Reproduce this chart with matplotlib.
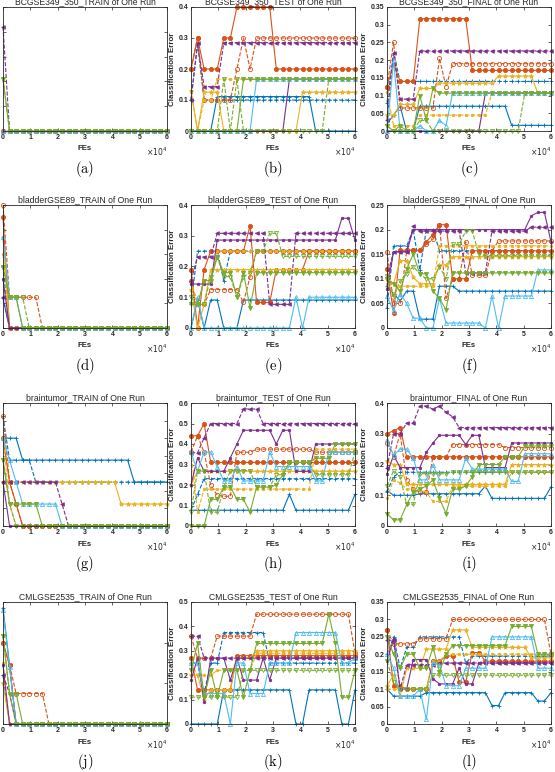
import matplotlib
matplotlib.use('Agg')
import matplotlib.pyplot as plt

plt.rcParams['font.family'] = ['Liberation Sans', 'DejaVu Sans']
plt.rcParams['mathtext.fontset'] = 'cm'

# ---------------- data ----------------
X_FES = [0, 2400, 4800, 7200, 9600, 12000, 14400, 16800, 19200, 21600, 24000, 26400, 28800,
         31200, 33600, 36000, 38400, 40800, 43200, 45600, 48000, 50400, 52800, 55200, 57600, 60000]

TITLES = ['BCGSE349_350_TRAIN of One Run', 'BCGSE349_350_TEST of One Run', 'BCGSE349_350_FINAL of One Run',
          'bladderGSE89_TRAIN of One Run', 'bladderGSE89_TEST of One Run', 'bladderGSE89_FINAL of One Run',
          'braintumor_TRAIN of One Run', 'braintumor_TEST of One Run', 'braintumor_FINAL of One Run',
          'CMLGSE2535_TRAIN of One Run', 'CMLGSE2535_TEST of One Run', 'CMLGSE2535_FINAL of One Run']
PANEL_LABELS = ['(a)', '(b)', '(c)', '(d)', '(e)', '(f)', '(g)', '(h)', '(i)', '(j)', '(k)', '(l)']
Y_MAX = [0.5, 0.4, 0.35, 0.5, 0.4, 0.25, 0.35, 0.6, 0.4, 0.3, 0.5, 0.35]
Y_STEP = [0.1, 0.1, 0.05, 0.1, 0.1, 0.05, 0.05, 0.1, 0.1, 0.1, 0.1, 0.05]

BC_TRAIN = [
    [0, 0,0,0,0,0, 0,0,0,0,0, 0,0,0,0,0, 0,0,0,0,0, 0,0,0,0,0],
    [0, 0,0,0,0,0, 0,0,0,0,0, 0,0,0,0,0, 0,0,0,0,0, 0,0,0,0,0],
    [0, 0,0,0,0,0, 0,0,0,0,0, 0,0,0,0,0, 0,0,0,0,0, 0,0,0,0,0],
    [0, 0,0,0,0,0, 0,0,0,0,0, 0,0,0,0,0, 0,0,0,0,0, 0,0,0,0,0],
    [0, 0,0,0,0,0, 0,0,0,0,0, 0,0,0,0,0, 0,0,0,0,0, 0,0,0,0,0],
    [0, 0,0,0,0,0, 0,0,0,0,0, 0,0,0,0,0, 0,0,0,0,0, 0,0,0,0,0],
    [0, 0,0,0,0,0, 0,0,0,0,0, 0,0,0,0,0, 0,0,0,0,0, 0,0,0,0,0],
    [0.42, 0,0,0,0,0, 0,0,0,0,0, 0,0,0,0,0, 0,0,0,0,0, 0,0,0,0,0],
    [0.21, 0,0,0,0,0, 0,0,0,0,0, 0,0,0,0,0, 0,0,0,0,0, 0,0,0,0,0],
    [0.21, 0,0,0,0,0, 0,0,0,0,0, 0,0,0,0,0, 0,0,0,0,0, 0,0,0,0,0],
    [0, 0,0,0,0,0, 0,0,0,0,0, 0,0,0,0,0, 0,0,0,0,0, 0,0,0,0,0],
]
BC_TEST = [
    [0,0,0,0, 0.111,0.111,0.111,0.111,0.111, 0.111,0.111,0.111,0.111,0.111, 0.111,0.111,0.111,0.111,0.111, 0,0,0,0,0,0,0],
    [0.1,0.28, 0.1,0.1,0.1,0.1,0.1, 0.1,0.1,0.1,0.1,0.1, 0.1,0.1,0.1,0.1,0.1, 0.1,0.1,0.1,0.1,0.1, 0.1,0.1,0.1,0.1],
    [0.2,0.3,0.2,0.2,0.2,0.3,0.3, 0.4,0.4,0.4,0.4,0.4,0.4, 0.2,0.2,0.2,0.2,0.2, 0.2,0.2,0.2,0.2,0.2, 0.2,0.2,0.2],
    [0.2,0.3,0.1,0.1,0.1,0.1,0.1,0.2,0.3,0.2, 0.3,0.3,0.3,0.3,0.3,0.3,0.3,0.3, 0.3,0.3,0.3,0.3,0.3,0.3,0.3,0.3],
    [0.13,0,0.125,0.125,0.125, 0,0,0,0,0,0, 0,0,0,0,0,0, 0.125,0.125,0.125,0.125,0.125, 0.125,0.125,0.125,0.125],
    [0.13,0,0.1,0.1, 0.167,0.167,0.167,0.167,0.167,0.167,0.167,0.167,0.167,0.167,0.167, 0.167,0.167,0.167,0.167,0.167,0.167,0.167,0.167,0.167,0.167,0.167],
    [0,0,0,0,0, 0,0,0,0,0, 0,0,0,0,0, 0.167,0.167,0.167,0.167,0.167,0.167, 0.167,0.167,0.167,0.167,0.167],
    [0.1,0.285,0.143,0.143,0.143, 0.285,0.285,0.285,0.285,0.285,0.285,0.285, 0.285,0.285,0.285,0.285,0.285,0.285,0.285, 0.285,0.285,0.285,0.285,0.285,0.285,0.285],
    [0,0,0,0,0,0,0,0, 0.167,0.167,0.167,0.167,0.167,0.167,0.167,0.167,0.167, 0.167,0.167,0.167,0.167,0.167,0.167,0.167,0.167,0.167],
    [0,0,0,0,0,0.167,0,0.167, 0,0,0,0,0,0,0,0,0,0,0,0,0, 0.167,0.167,0.167,0.167,0.167],
    [0,0,0,0,0,0,0,0,0,0, 0.167,0.167,0.167,0.167,0.167,0.167,0.167,0.167, 0.167,0.167,0.167,0.167,0.167,0.167,0.167,0.167],
]
BC_FINAL = [
    [0.02,0.045,0.07,0,0, 0.07,0.07,0.07,0.07,0.07,0.07,0.07, 0.07,0.07,0.07,0.07,0.07,0.07,0.07, 0.016,0.016,0.016,0.016,0.016,0.016,0.016],
    [0.08,0.22, 0.14,0.14,0.14,0.14,0.14,0.14, 0.14,0.14,0.14,0.14,0.14,0.14, 0.14,0.14,0.14,0.14,0.14,0.14, 0.14,0.14,0.14,0.14,0.14,0.14],
    [0.125,0.19,0.14,0.14,0.14, 0.317,0.317,0.317,0.317,0.317,0.317,0.317,0.317, 0.171,0.171,0.171,0.171,0.171,0.171,0.171, 0.171,0.171,0.171,0.171,0.171,0.171],
    [0.125,0.25,0.065,0.065,0.065,0.065,0.065,0.065,0.205,0.125, 0.19,0.19,0.19,0.19,0.19,0.19,0.19,0.19, 0.19,0.19,0.19,0.19,0.19,0.19,0.19,0.19],
    [0.045,0.045,0.075,0.075,0.075,0.12,0.12,0.12, 0.135,0.135,0.135,0.135,0.135,0.135,0.135,0.135,0.135, 0.155,0.155,0.155,0.155,0.155,0.155, 0.107,0.107,0.107],
    [0.11,0.015,0.015,0.015,0.015, 0.045,0.045,0.045,0.045,0.045,0.045,0.045,0.045,0.045,0.045,0.045, 0.107,0.107,0.107,0.107,0.107,0.107,0.107,0.107,0.107,0.107],
    [0,0,0,0,0, 0,0,0,0,0, 0,0,0,0,0, 0.107,0.107,0.107,0.107,0.107,0.107, 0.107,0.107,0.107,0.107,0.107],
    [0.03,0.22,0.09,0.09,0.09, 0.226,0.226,0.226,0.226,0.226,0.226,0.226, 0.226,0.226,0.226,0.226,0.226,0.226,0.226, 0.226,0.226,0.226,0.226,0.226,0.226,0.226],
    [0.015,0,0.015,0,0,0.1,0.03,0.12, 0.107,0.107,0.107,0.107,0.107,0.107,0.107,0.107,0.107, 0.107,0.107,0.107,0.107,0.107,0.107,0.107,0.107,0.107],
    [0.015,0,0,0,0,0.03,0.03, 0,0,0,0,0,0,0, 0,0,0,0,0,0,0, 0.107,0.107,0.107,0.107,0.107],
    [0,0.2,0,0,0,0.015,0,0,0.03,0.015, 0.107,0.107,0.107,0.107,0.107,0.107,0.107,0.107, 0.107,0.107,0.107,0.107,0.107,0.107,0.107,0.107],
]

BL_TRAIN = [
    [0.12, 0,0,0,0,0, 0,0,0,0,0, 0,0,0,0,0, 0,0,0,0,0, 0,0,0,0,0],
    [0.25, 0,0,0,0,0, 0,0,0,0,0, 0,0,0,0,0, 0,0,0,0,0, 0,0,0,0,0],
    [0.45, 0,0,0,0,0, 0,0,0,0,0, 0,0,0,0,0, 0,0,0,0,0, 0,0,0,0,0],
    [0.5,0.125,0.125,0.125,0.125,0.125, 0,0,0,0,0, 0,0,0,0,0, 0,0,0,0,0, 0,0,0,0,0],
    [0.37, 0,0,0,0,0, 0,0,0,0,0, 0,0,0,0,0, 0,0,0,0,0, 0,0,0,0,0],
    [0.3, 0,0,0,0,0, 0,0,0,0,0, 0,0,0,0,0, 0,0,0,0,0, 0,0,0,0,0],
    [0.2, 0,0,0,0,0, 0,0,0,0,0, 0,0,0,0,0, 0,0,0,0,0, 0,0,0,0,0],
    [0.125, 0,0,0,0,0, 0,0,0,0,0, 0,0,0,0,0, 0,0,0,0,0, 0,0,0,0,0],
    [0.25,0.125,0.125, 0,0,0, 0,0,0,0,0, 0,0,0,0,0, 0,0,0,0,0, 0,0,0,0,0],
    [0.25,0.125,0.125,0.125, 0,0, 0,0,0,0,0, 0,0,0,0,0, 0,0,0,0,0, 0,0,0,0,0],
    [0.37,0.125,0.125, 0,0,0, 0,0,0,0,0, 0,0,0,0,0, 0,0,0,0,0, 0,0,0,0,0],
]
BL_TEST = [
    [0,0.091,0,0.091,0.091,0,0,0, 0.091,0.091,0.091,0.091,0.091,0.091,0.091,0.091,0.091, 0.091,0.091,0.091,0.091,0.091,0.091,0.091,0.091,0.091],
    [0.077,0.25,0.25,0.25,0.25,0.154, 0.25,0.25,0.25,0.25,0.25,0.25,0.25,0.25,0.25,0.25, 0.25,0.25,0.25,0.25,0.25,0.25,0.25,0.25,0.25,0.25],
    [0.19,0,0.19, 0.25,0.25,0.25,0.25,0.25,0.25, 0.333, 0.083,0.083,0.083, 0.19,0.19,0.19,0.19,0.19, 0.25,0.25,0.25,0.25,0.25,0.25,0.25,0.25],
    [0.154,0.077,0.077, 0.125,0.125,0.125,0.125,0.125, 0.083,0.167, 0.25,0.25,0.25,0.25,0.25,0.25,0.25,0.25, 0.25,0.25,0.25,0.25,0.25,0.25,0.25,0.25],
    [0.125,0,0.077, 0.19,0.19,0.19,0.19,0.19,0.19,0.19,0.19,0.19,0.19,0.19,0.19,0.19, 0.19,0.19,0.19,0.19,0.19,0.19,0.19,0.19,0.19,0.19],
    [0.154,0.077,0.154,0.154, 0.25,0.25,0.25,0.25,0.25,0.25,0.25,0.25,0.25,0.25,0.25, 0.25,0.25,0.25,0.25,0.25,0.25,0.25,0.25,0.25,0.25,0.25],
    [0.143,0.143,0.143,0.143, 0.286,0.286,0.286,0.286,0.286,0.286,0.286,0.286,0.286,0.286, 0.286,0.286,0.286,0.286,0.286,0.286,0.286,0.286,0.286, 0.357,0.357,0.286],
    [0.154,0.231,0.231,0.231, 0.308,0.308,0.308,0.308,0.308,0.308,0.308,0.308, 0.077,0.077,0.077,0.077, 0.308,0.308,0.308,0.308,0.308,0.308,0.308,0.308,0.308,0.308],
    [0.077,0.077,0.154,0.154,0.231,0.18,0.18,0.1,0.18,0.065, 0.18,0.18,0.18,0.18,0.18,0.18,0.18,0.18, 0.18,0.18,0.18,0.18,0.18,0.18,0.18,0.18],
    [0.1,0.077,0.077,0.167,0.231,0.167,0.167,0.1,0.167,0.18,0.25,0.25,0.308,0.308, 0.233,0.233,0.233,0.233,0.233,0.233, 0.233,0.233,0.233,0.233,0.233,0.233],
    [0,0.1, 0,0,0,0,0,0,0, 0,0,0,0,0,0,0, 0.1,0, 0.1,0.1,0.1,0.1,0.1,0.1,0.1,0.1],
]
BL_FINAL = [
    [0.085,0.07,0.055,0.075,0.075,0.018,0.018,0.018,0.085,0.085,0.085, 0.075,0.075,0.075,0.075,0.075,0.075,0.075, 0.075,0.075,0.075,0.075,0.075,0.075,0.075,0.075],
    [0.04,0.167,0.167,0.167,0.2,0.118,0.2,0.2, 0.157,0.157,0.157,0.157,0.157,0.157,0.157,0.157,0.157, 0.157,0.157,0.157,0.157,0.157,0.157,0.157,0.157,0.157],
    [0.12,0.03,0.158,0.158,0.158,0.158,0.175,0.19,0.21,0.21,0.1,0.1,0.1, 0.157,0.157,0.157,0.157,0.157,0.157, 0.157,0.157,0.157,0.157,0.157,0.157,0.157],
    [0.155,0.05,0.05,0.158,0.158,0.158,0.17,0.18,0.21,0.06,0.1,0.1,0.175,0.107,0.107,0.107,0.157, 0.177,0.177,0.177,0.177,0.177,0.177,0.177,0.177,0.177],
    [0.1,0.09,0.137,0.137,0.103,0.09,0.09,0.09,0.128,0.128, 0.145,0.145,0.145,0.145,0.145,0.145,0.145,0.145, 0.145,0.145,0.145,0.145,0.145,0.145,0.145,0.145],
    [0.09,0.07, 0.085,0.085,0.085,0.085,0.085,0.085, 0.167,0.167,0.167,0.167,0.167,0.167,0.167,0.167,0.167, 0.167,0.167,0.167,0.167,0.167,0.167,0.167,0.167,0.167],
    [0.08,0.155,0.155,0.155, 0.2,0.2,0.2,0.2,0.2,0.2,0.2,0.2,0.2, 0.2,0.2,0.2,0.2,0.2,0.2,0.2,0.2,0.2, 0.228,0.235,0.235,0.175],
    [0.103,0.155,0.155,0.155,0.207, 0.197,0.197,0.197,0.197,0.197,0.197,0.197, 0.112,0.112,0.112,0.112, 0.197,0.197,0.197,0.197,0.197,0.197, 0.205,0.205,0.205,0.205],
    [0.1,0.09,0.075,0.12,0.15,0.11,0.11,0.075,0.06,0.037, 0.112,0.112,0.112,0.112,0.112,0.112,0.112,0.112, 0.112,0.112,0.112,0.112,0.112,0.112,0.112,0.112],
    [0.105,0.065,0.095,0.11,0.125,0.11,0.1,0.1,0.125,0.1,0.17,0.17,0.197,0.197,0.15, 0.147,0.147,0.147,0.147,0.147,0.147, 0.147,0.147,0.147,0.147,0.147],
    [0.065,0.035,0.07,0.05,0.02,0.02,0,0,0.06,0.01,0.01,0.01,0.01,0.01,0.01,0,0.065,0, 0.065,0.065,0.065,0.065,0.065, 0.118,0.118,0.118],
]

BT_TRAIN = [
    [0.25,0.25,0.25, 0.1875,0.1875,0.1875,0.1875,0.1875,0.1875,0.1875,0.1875,0.1875, 0.1875,0.1875,0.1875,0.1875,0.1875,0.1875,0.1875,0.1875, 0.125,0.125,0.125,0.125,0.125,0.125],
    [0.3125,0.1875,0.1875,0.1875,0.1875, 0.125,0.125,0.125,0.125,0.125,0.125,0.125, 0.125,0.125,0.125,0.125,0.125,0.125,0.125, 0.125,0.125,0.125,0.125,0.125,0.125,0.125],
    [0.25,0.125,0.0625, 0,0,0, 0,0,0,0,0, 0,0,0,0,0, 0,0,0,0,0, 0,0,0,0,0],
    [0.3125,0.125,0.0625, 0,0,0, 0,0,0,0,0, 0,0,0,0,0, 0,0,0,0,0, 0,0,0,0,0],
    [0.125,0.125,0.125,0.125,0.125,0.125,0.125,0.125,0.125, 0.125,0.125,0.125,0.125,0.125,0.125,0.125,0.125,0.125, 0.0625,0.0625,0.0625,0.0625,0.0625,0.0625,0.0625,0.0625],
    [0.25,0.0625, 0,0,0,0, 0,0,0,0,0, 0,0,0,0,0, 0,0,0,0,0, 0,0,0,0,0],
    [0.125, 0,0,0,0,0, 0,0,0,0,0, 0,0,0,0,0, 0,0,0,0,0, 0,0,0,0,0],
    [0.125,0.125,0.125,0.125,0.125,0.125,0.125,0.125,0.125, 0.0625, 0,0,0,0,0,0,0,0, 0,0,0,0,0,0,0,0],
    [0.1875, 0.0625,0.0625,0.0625,0.0625,0.0625, 0,0,0,0,0, 0,0,0,0,0, 0,0,0,0,0, 0,0,0,0,0],
    [0.1875,0.0625, 0,0,0,0, 0,0,0,0,0, 0,0,0,0,0, 0,0,0,0,0, 0,0,0,0,0],
    [0.25,0.1875,0.125, 0.0625,0.0625,0.0625,0.0625,0.0625,0.0625, 0,0,0,0,0,0,0,0,0, 0,0,0,0,0,0,0,0],
]
BT_TEST = [
    [0.077,0.077,0.077,0.077,0.077,0.077,0.077,0.077,0.077,0.077,0.077,0.077,0.077,0.077,0.077, 0.154, 0.077,0.077,0.077,0.077,0.077,0.077,0.077,0.077,0.077, 0.154],
    [0.077,0.154, 0.231,0.231,0.231,0.231,0.231,0.231,0.231,0.231, 0.231,0.231,0.231,0.231,0.231,0.231,0.231,0.231, 0.231,0.231,0.231,0.231,0.231,0.231,0.231,0.231],
    [0.44,0.44,0.5, 0.31,0.31,0.31,0.31,0.31,0.31,0.31,0.31,0.31,0.31,0.31,0.31, 0.31,0.31,0.31,0.31,0.31,0.31,0.31,0.31,0.31,0.31,0.31],
    [0.36,0.44,0.36,0.2,0.15,0.145,0.145,0.36,0.36,0.36, 0.375,0.375,0.375,0.375,0.375,0.375,0.375,0.375,0.375, 0.36,0.36,0.36,0.36,0.36,0.36,0.36],
    [0.2, 0.267,0.267,0.267,0.267,0.267,0.267,0.267,0.267,0.267,0.267,0.267,0.267, 0.267,0.267,0.267,0.267,0.267,0.267,0.267,0.267,0.267,0.267,0.267,0.267,0.267],
    [0.36,0.067, 0.18,0.18,0.18,0.18,0.18,0.18,0.18,0.18,0.18, 0.18,0.18,0.18,0.18,0.18,0.18,0.18,0.18, 0.375,0.375,0.375,0.375,0.375,0.375,0.375],
    [0.2,0.333,0.267,0.267,0.267,0.267,0.333,0.4, 0.467,0.467,0.467,0.467,0.467, 0.4, 0.467,0.467, 0.267,0.267,0.267, 0.4,0.4,0.4,0.4,0.4,0.4,0.4],
    [0.357,0.357,0.43, 0.5,0.5,0.5,0.5,0.5, 0.571,0.571,0.571, 0.5,0.5,0.5,0.5,0.5,0.5,0.5,0.5, 0.5,0.5,0.5,0.5,0.5,0.5,0.5],
    [0,0,0,0.13,0.13,0.19,0.19,0.13,0.13,0.067,0.19,0.19,0.19,0.2,0.25, 0.31,0.31,0.31,0.31, 0.33,0.33,0.33, 0.4,0.4,0.4,0.4],
    [0.07,0.27,0.27,0.067,0.067,0.19, 0.27,0.27,0.27,0.27, 0.19,0.19,0.19, 0.25,0.25, 0.31,0.31,0.31,0.31, 0.25,0.25,0.25,0.25,0.25,0.25, 0.36],
    [0.36,0.267,0.36,0.36,0.29,0.22,0.22,0.29, 0.22,0.22,0.22,0.22, 0.36, 0.29,0.29,0.29,0.29,0.29,0.29, 0.22,0.22, 0.36,0.36,0.36,0.36,0.36],
]
BT_FINAL = [
    [0.115,0.1,0.1,0.1,0.1, 0.105,0.105,0.105,0.105,0.105,0.105,0.105,0.105,0.105,0.105, 0.13, 0.09,0.09,0.09,0.09,0.09,0.09,0.09,0.09,0.09, 0.127],
    [0.11,0.16, 0.175,0.175,0.175,0.175,0.175,0.175,0.175,0.175, 0.175,0.175,0.175,0.175,0.175,0.175,0.175,0.175, 0.175,0.175,0.175,0.175,0.175,0.175,0.175,0.175],
    [0.3,0.31,0.32, 0.225,0.225,0.225,0.225,0.225,0.225,0.225,0.225,0.225,0.225,0.225,0.225, 0.225,0.225,0.225,0.225,0.225,0.225,0.225,0.225,0.225,0.225,0.225],
    [0.27,0.225,0.3,0.15,0.12,0.11,0.11, 0.225,0.225,0.225, 0.265,0.265,0.265,0.265,0.265,0.265,0.265,0.265, 0.255,0.255,0.255,0.255,0.255,0.255,0.255,0.255],
    [0.21,0.2,0.2, 0.135,0.135,0.135,0.135,0.135,0.135,0.135,0.135, 0.135,0.135,0.135,0.135,0.135,0.135,0.135,0.135, 0.2,0.2,0.2,0.2,0.2,0.2,0.2],
    [0.09,0.15,0.14,0.12,0.12,0.12,0.11,0.08,0.08,0.08, 0.13,0.13,0.13,0.13,0.13,0.13,0.13,0.13,0.13, 0.175,0.175,0.175,0.175,0.175,0.175,0.175],
    [0.17,0.23,0.19,0.19,0.19,0.19,0.24,0.27, 0.295,0.295,0.295,0.295, 0.265, 0.295,0.295, 0.19,0.19,0.19,0.19, 0.27,0.27,0.27,0.27,0.27,0.27,0.27],
    [0.19,0.3,0.3,0.335,0.335,0.39,0.39,0.38,0.39,0.37,0.355, 0.32,0.32,0.32,0.32,0.32,0.32,0.32,0.32, 0.32,0.32,0.32,0.32,0.32,0.32,0.32],
    [0.04,0.02,0.02,0.07,0.11,0.12,0.13,0.15,0.09,0.04,0.12,0.12,0.13,0.16, 0.2,0.2,0.2,0.2, 0.225,0.225,0.225, 0.26,0.26,0.26,0.26,0.26],
    [0.13,0.18,0.16,0.07,0.07, 0.17,0.17,0.17,0.17,0.17, 0.175,0.175,0.175,0.175,0.175,0.175,0.175,0.175, 0.175,0.175,0.175,0.175,0.175,0.175,0.175,0.175],
    [0.28,0.23,0.25,0.25,0.22,0.15,0.15,0.2,0.15,0.15,0.15,0.15,0.22, 0.185,0.185,0.185,0.185,0.185,0.185, 0.145,0.145, 0.235,0.235,0.235,0.235,0.235],
]

CM_TRAIN = [
    [0.286,0.143, 0,0,0,0, 0,0,0,0,0, 0,0,0,0,0, 0,0,0,0,0, 0,0,0,0,0],
    [0.12, 0,0,0,0,0, 0,0,0,0,0, 0,0,0,0,0, 0,0,0,0,0, 0,0,0,0,0],
    [0.2,0.145, 0,0,0,0, 0,0,0,0,0, 0,0,0,0,0, 0,0,0,0,0, 0,0,0,0,0],
    [0.2,0.145, 0.075,0.075,0.075,0.075,0.075, 0,0,0,0, 0,0,0,0,0, 0,0,0,0,0, 0,0,0,0,0],
    [0.1, 0,0,0,0,0, 0,0,0,0,0, 0,0,0,0,0, 0,0,0,0,0, 0,0,0,0,0],
    [0.15, 0,0,0,0,0, 0,0,0,0,0, 0,0,0,0,0, 0,0,0,0,0, 0,0,0,0,0],
    [0.145, 0,0,0,0,0, 0,0,0,0,0, 0,0,0,0,0, 0,0,0,0,0, 0,0,0,0,0],
    [0.12,0.075, 0,0,0,0, 0,0,0,0,0, 0,0,0,0,0, 0,0,0,0,0, 0,0,0,0,0],
    [0.216,0.075,0.075, 0,0,0, 0,0,0,0,0, 0,0,0,0,0, 0,0,0,0,0, 0,0,0,0,0],
    [0.216,0.075, 0,0,0,0, 0,0,0,0,0, 0,0,0,0,0, 0,0,0,0,0, 0,0,0,0,0],
    [0.28,0.14, 0,0,0,0, 0,0,0,0,0, 0,0,0,0,0, 0,0,0,0,0, 0,0,0,0,0],
]
CM_TEST = [
    [0,0,0,0,0, 0.14,0.14,0.14,0.14,0.14,0.14,0.14,0.14,0.14,0.14,0.14, 0,0, 0.14,0.14,0.14,0.14,0.14, 0,0, 0.14],
    [0.25,0.25,0.125,0.25,0.25, 0.375,0.375,0.375,0.375,0.375,0.375,0.375, 0.25,0.25,0.25,0.25,0.25,0.25,0.25, 0.25,0.25,0.25,0.25,0.25,0.25,0.25],
    [0.27, 0.14,0.14,0.14,0.14,0.14,0.14, 0.28,0.28,0.28,0.28,0.28,0.28,0.28,0.28,0.28,0.28, 0.28,0.28,0.28,0.28,0.28,0.28,0.28,0.28,0.28],
    [0.36,0.27,0.27,0.27, 0.36,0.36,0.36,0.36,0.36,0.36, 0.45,0.45,0.45,0.45,0.45,0.45,0.45,0.45, 0.45,0.45,0.45,0.45,0.45,0.45,0.45, 0.29],
    [0.2,0.2,0.1,0.14,0.14,0.14,0.14,0.27,0.27,0.27, 0.3,0.3,0.3,0.3,0.3,0.3,0.3,0.3, 0.3,0.3,0.3,0.3,0.3,0.3,0.3,0.3],
    [0.25,0.2,0.2,0.2, 0.22,0.22,0.22,0.22,0.22,0.22, 0.29,0.29,0.29,0.29,0.29,0.29,0.29,0.29, 0.29,0.29,0.29,0.29,0.29,0.29,0.29,0.29],
    [0.18,0.27,0.09,0.27,0.27,0.27,0.18,0.27,0.18,0.18,0.18,0.27,0.18, 0.27,0.27,0.27,0.27,0.27,0.27,0.27, 0.27,0.27,0.27,0.27,0.27,0.27],
    [0.36,0.36, 0.27,0.27,0.27,0.27,0.27,0.27,0.27,0.27, 0.27,0.27,0.27,0.27,0.27,0.27,0.27,0.27, 0.27,0.27,0.27,0.27,0.27,0.27,0.27,0.27],
    [0.22,0.33,0.11,0.22,0.11,0.22,0.22,0.22,0.11,0.22, 0.33,0.33,0.33,0.33,0.33,0.33,0.33,0.33,0.33,0.33,0.33, 0.45,0.33,0.11,0.11,0.22],
    [0.11,0.11,0.11,0.11,0.11,0.11,0.11,0.11, 0.22,0.22,0.22,0.22,0.22,0.22,0.22,0.22,0.22, 0.22,0.22,0.22,0.22,0.22,0.22,0.22,0.22,0.22],
    [0.25,0.25,0.125,0.125,0.125,0.125,0,0.25,0.25,0.125,0.125,0.125, 0.25,0.25,0.25,0.25, 0.375,0.375,0.375,0.375,0.375,0.375,0.375, 0.25,0.25,0.27],
]
CM_FINAL = [
    [0.1, 0.08,0.08,0.08,0.08,0.08, 0.09,0.09,0.09,0.09,0.09,0.09,0.09,0.09,0.09,0.09, 0.053,0.053, 0.09,0.09,0.09,0.09,0.09, 0.066,0.066,0.09],
    [0.2,0.25,0.16,0.22,0.22, 0.25,0.25,0.25,0.25,0.25,0.25,0.25, 0.175, 0.195,0.195,0.195,0.195,0.195,0.195,0.195, 0.195,0.195,0.195,0.195,0.195,0.195],
    [0.27,0.11,0.11,0.1,0.1,0.1,0.1,0.18,0.18,0.195,0.195,0.12,0.12,0.205,0.205, 0.18,0.18,0.18,0.18,0.18,0.18, 0.18,0.18,0.18,0.18,0.18],
    [0.27,0.23,0.23,0.23,0.23, 0.245,0.245,0.245,0.245,0.245, 0.3,0.3,0.3,0.3,0.3,0.3,0.3,0.3, 0.3,0.3,0.3,0.3,0.3,0.3,0.3, 0.2],
    [0.11,0.14,0.08,0.16,0.16,0.16, 0.215,0.215,0.215,0.215, 0.27,0.27,0.27, 0.22,0.22,0.22,0.22,0.22,0.22,0.22,0.22,0.22, 0.19,0.19,0.19,0.19],
    [0.1,0.1,0.1,0.1,0.1,0.1,0.1, 0.18,0.18, 0.2,0.2,0.2,0.2,0.2,0.2,0.2,0.2, 0.2,0.2,0.2,0.2,0.2,0.2,0.2,0.2,0.2],
    [0.18,0.245,0.1,0.1,0.185,0.185,0.185,0.13,0.115,0.115,0.115,0.16,0.115,0.115, 0.175,0.175,0.175,0.175,0.175,0.175, 0.175,0.175,0.175,0.175,0.175,0.175],
    [0.24,0.24,0.1, 0.17,0.17,0.17,0.17,0.17, 0.175,0.175,0.175,0.175,0.175,0.175,0.175,0.175,0.175, 0.175,0.175,0.175,0.175,0.175,0.175,0.175,0.175,0.175],
    [0.25,0.2,0.16,0.2,0.2,0.16,0.16,0.22,0.15,0.2, 0.225,0.225,0.225,0.225,0.225,0.225,0.225,0.225,0.225, 0.28,0.28,0.28,0.28, 0.2,0.2,0.2],
    [0.18,0.12, 0.1,0.1,0.1,0.1,0.1, 0.14,0.14,0.14,0.14,0.14,0.14,0.14,0.14,0.14,0.14, 0.14,0.14,0.14,0.14,0.14,0.14,0.14,0.14,0.14],
    [0.2,0.16,0.08,0.08,0.08,0.1,0.013,0.175,0.17,0.11,0.11,0.11, 0.16,0.16,0.16,0.16, 0.25,0.25,0.25,0.25,0.25,0.25,0.25, 0.16,0.16,0.16],
]

PANELS = [BC_TRAIN, BC_TEST, BC_FINAL, BL_TRAIN, BL_TEST, BL_FINAL,
          BT_TRAIN, BT_TEST, BT_FINAL, CM_TRAIN, CM_TEST, CM_FINAL]

# ---------------- styles ----------------
COLORS = ['#0072BD', '#0072BD', '#D95319', '#D95319', '#EDB120', '#EDB120',
          '#7E2F8E', '#7E2F8E', '#77AC30', '#77AC30', '#4DBEEE']
LSTYLES = ['-', '--', '-', '--', '-', '--', '-', '--', '-', '--', '-']
MARKERS = ['+', '+', 'o', 'o', '*', '.', '.', '<', 'v', 'v', '^']
MSIZES = [3.2, 3.2, 3.0, 3.0, 3.2, 3.5, 3.5, 2.6, 3.0, 3.0, 3.0]
FILLED = [True, True, True, False, True, True, True, True, True, False, False]
ORDER = [0, 1, 2, 3, 4, 5, 6, 7, 10, 9, 8]

W, H = 555.0, 772.0
fig = plt.figure(figsize=(W / 100, H / 100), dpi=100)

COL_LEFT = [3, 191, 387]
AX_W = 164
ROWS = [(7, 131), (205, 328), (403, 526), (602, 724)]
YLABEL_OFFSET = [-18, -19, -22]

for p in range(12):
    r, c = divmod(p, 3)
    top, bot = ROWS[r]
    ax = fig.add_axes([COL_LEFT[c] / W, 1 - bot / H, AX_W / W, (bot - top) / H])
    data = PANELS[p]
    for k in ORDER:
        y = data[k]
        if len(y) != len(X_FES):
            raise ValueError(f'panel {p} series {k} has {len(y)} values')
        col = COLORS[k]
        ax.plot(X_FES, y, color=col, linestyle=LSTYLES[k], linewidth=0.8,
                marker=MARKERS[k], markersize=MSIZES[k], markeredgewidth=0.6,
                markerfacecolor=(col if FILLED[k] else 'none'), markeredgecolor=col,
                clip_on=False, zorder=2)
    ax.set_xlim(0, 60000)
    ax.set_ylim(0, Y_MAX[p])
    xt = [0, 10000, 20000, 30000, 40000, 50000, 60000]
    ax.set_xticks(xt, [f'{v / 10000:g}' for v in xt], fontweight='bold', fontsize=5)
    n = int(round(Y_MAX[p] / Y_STEP[p]))
    yt = [round(i * Y_STEP[p], 3) for i in range(n + 1)]
    ax.set_yticks(yt, [f'{v:g}' for v in yt], fontweight='bold', fontsize=5)
    ax.tick_params(direction='in', top=True, right=True, length=2, width=0.5, pad=2,
                   colors='#262626', labelleft=(c != 0))
    for s in ax.spines.values():
        s.set_linewidth(0.6)
        s.set_color('#262626')
    ax.set_title(TITLES[p], fontsize=6.2, pad=2.2, color='#262626')
    ax.annotate('FEs', xy=(0.5, 0), xycoords='axes fraction', xytext=(0, -18),
                textcoords='offset pixels', ha='center', va='center',
                fontsize=5.6, fontweight='bold', color='#262626')
    ax.annotate(r'$\times10^{4}$', xy=(1, 0), xycoords='axes fraction', xytext=(0, -21),
                textcoords='offset pixels', ha='right', va='center', fontsize=5.5,
                color='#262626', math_fontfamily='dejavusans')
    ax.annotate(r'$\mathrm{' + PANEL_LABELS[p] + '}$', xy=(0.5, 0), xycoords='axes fraction',
                xytext=(0, -38), textcoords='offset pixels', ha='center', va='center',
                fontsize=10.5, color='black', math_fontfamily='cm')
    if c != 0:
        ax.annotate('Classification Error', xy=(0, 0.5), xycoords='axes fraction',
                    xytext=(YLABEL_OFFSET[c], 0), textcoords='offset pixels', ha='center',
                    va='center', rotation=90, fontsize=5.7, fontweight='bold', color='#262626')

fig.savefig('out.png', dpi=100)
